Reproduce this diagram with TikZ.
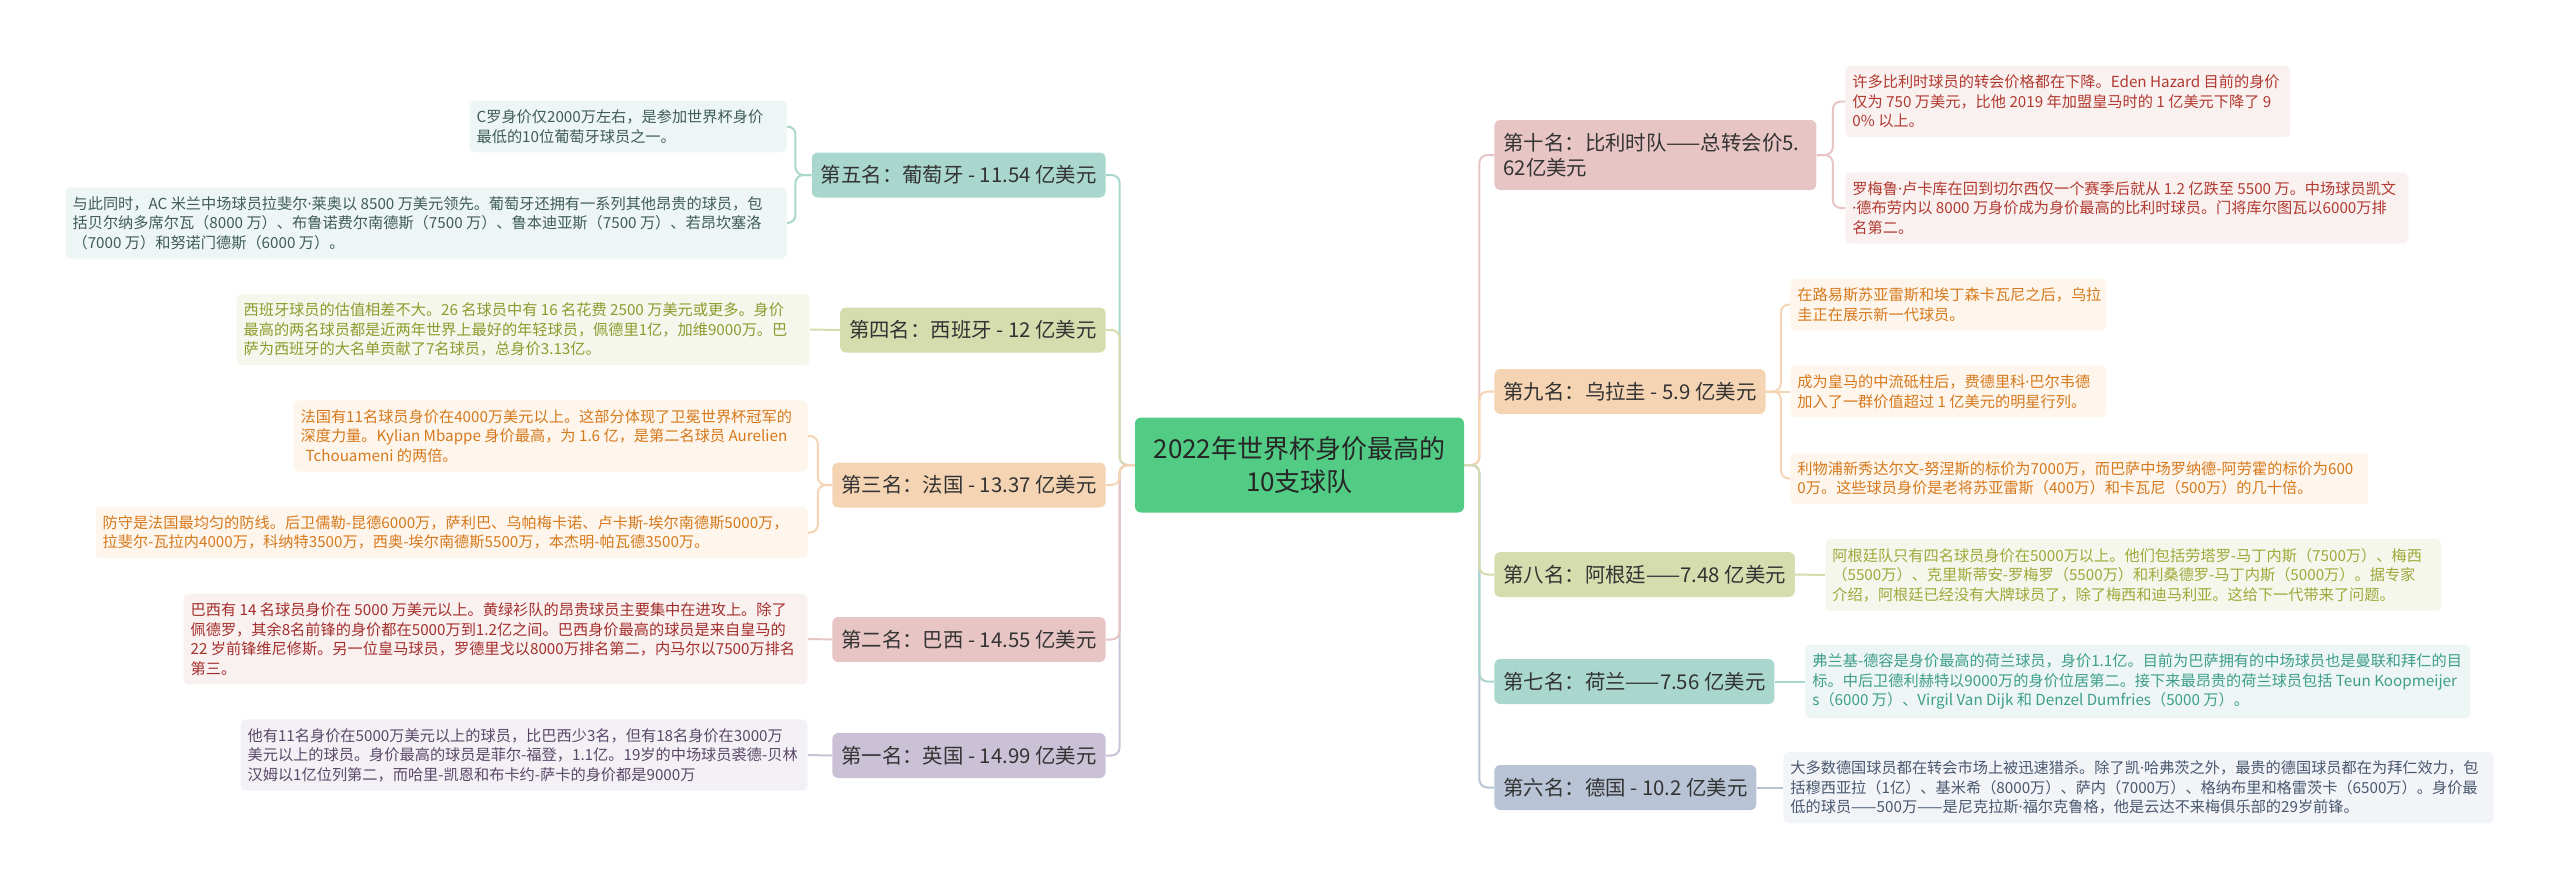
\documentclass[tikz,border=0pt]{standalone}
\usepackage{fontspec}
\setmainfont{Noto Sans CJK SC}
\newfontfamily\dotfont{Noto Sans}
\newcommand\md{{\dotfont ·}}
\newcommand\firstline[2]{\makebox[#1][l]{#2}}

\definecolor{rootgreen}{HTML}{52CC85}
\definecolor{tealbox}{HTML}{A9D7CE}
\definecolor{tealnote}{HTML}{EDF6F4}
\definecolor{olivebox}{HTML}{D5DCAE}
\definecolor{olivenote}{HTML}{F5F7EC}
\definecolor{peachbox}{HTML}{F5D4B3}
\definecolor{peachnote}{HTML}{FEF6ED}
\definecolor{pinkbox}{HTML}{E8C5C5}
\definecolor{pinknote}{HTML}{F9F0F0}
\definecolor{lilacbox}{HTML}{CBC1D6}
\definecolor{lilacnote}{HTML}{F3F1F5}
\definecolor{slatebox}{HTML}{B8C4D6}
\definecolor{slatenote}{HTML}{F2F4F7}
\definecolor{portext}{HTML}{3F5C58}
\definecolor{esptext}{HTML}{8E9B2F}
\definecolor{fratext}{HTML}{D6791C}
\definecolor{bratext}{HTML}{A52F2C}
\definecolor{engtext}{HTML}{5A4868}
\definecolor{beltext}{HTML}{B23A30}
\definecolor{argtext}{HTML}{9EA93A}
\definecolor{nedtext}{HTML}{3E9E8B}
\definecolor{gertext}{HTML}{4A5870}

\begin{document}
\begin{tikzpicture}[x=0.5pt,y=-0.5pt,
    rank/.style={rounded corners=3pt, inner xsep=4.5pt, inner ysep=0pt, minimum height=22.5pt,
      font=\fontsize{10.2}{12.2}\selectfont, text=black!80},
    note/.style={rounded corners=2.5pt, inner xsep=3.5pt, inner ysep=4.5pt, align=left,
      font=\fontsize{7.6}{9.75}\selectfont},
    link/.style={line width=1pt, rounded corners=4pt}]
  \useasboundingbox (0,0) rectangle (2560,890);

  % root
  \node[fill=rootgreen, rounded corners=3pt, minimum width=164.5pt, minimum height=47.5pt,
    align=center, font=\fontsize{13}{16.5}\selectfont, text=black!85] (root) at (1299.5,465)
    {2022年世界杯身价最高的\\10支球队};

  % left side
  \node[rank, fill=tealbox, anchor=east] (r5) at (1106,175) {第五名：葡萄牙 - 11.54 亿美元};
  \node[rank, fill=olivebox, anchor=east] (r4) at (1106,330) {第四名：西班牙 - 12 亿美元};
  \node[rank, fill=peachbox, anchor=east] (r3) at (1106,485) {第三名：法国 - 13.37 亿美元};
  \node[rank, fill=pinkbox, anchor=east] (r2) at (1106,639.5) {第二名：巴西 - 14.55 亿美元};
  \node[rank, fill=lilacbox, anchor=east] (r1) at (1106,755.5) {第一名：英国 - 14.99 亿美元};

  \node[note, fill=tealnote, text=portext, anchor=east] (r5a) at (787,126.5)
    {\firstline{151.5pt}{C罗身价仅2000万左右，是参加世界杯身价}\\最低的10位葡萄牙球员之一。};
  \node[note, fill=tealnote, text=portext, anchor=east] (r5b) at (787,223)
    {\firstline{353.5pt}{与此同时，AC 米兰中场球员拉斐尔\md 莱奥以 8500 万美元领先。葡萄牙还拥有一系列其他昂贵的球员，包}\\括贝尔纳多席尔瓦（8000 万）、布鲁诺费尔南德斯（7500 万）、鲁本迪亚斯（7500 万）、若昂坎塞洛\\（7000 万）和努诺门德斯（6000 万）。};
  \node[note, fill=olivenote, text=esptext, anchor=east] (r4a) at (810,329.5)
    {\firstline{279.5pt}{西班牙球员的估值相差不大。26 名球员中有 16 名花费 2500 万美元或更多。身价}\\最高的两名球员都是近两年世界上最好的年轻球员，佩德里1亿，加维9000万。巴\\萨为西班牙的大名单贡献了7名球员，总身价3.13亿。};
  \node[note, fill=peachnote, text=fratext, anchor=east] (r3a) at (808,436)
    {\firstline{250pt}{法国有11名球员身价在4000万美元以上。这部分体现了卫冕世界杯冠军的}\\深度力量。Kylian Mbappe 身价最高，为 1.6 亿，是第二名球员 Aurelien\\\hspace*{2.5pt}Tchouameni 的两倍。};
  \node[note, fill=peachnote, text=fratext, anchor=east] (r3b) at (808,532.5)
    {\firstline{349pt}{防守是法国最均匀的防线。后卫儒勒-昆德6000万，萨利巴、乌帕梅卡诺、卢卡斯-埃尔南德斯5000万，}\\拉斐尔-瓦拉内4000万，科纳特3500万，西奥-埃尔南德斯5500万，本杰明-帕瓦德3500万。};
  \node[note, fill=pinknote, text=bratext, anchor=east] (r2a) at (808,639)
    {\firstline{305pt}{巴西有 14 名球员身价在 5000 万美元以上。黄绿衫队的昂贵球员主要集中在进攻上。除了}\\佩德罗，其余8名前锋的身价都在5000万到1.2亿之间。巴西身价最高的球员是来自皇马的\\22 岁前锋维尼修斯。另一位皇马球员，罗德里戈以8000万排名第二，内马尔以7500万排名\\第三。};
  \node[note, fill=lilacnote, text=engtext, anchor=east] (r1a) at (808,755)
    {\firstline{276.5pt}{他有11名身价在5000万美元以上的球员，比巴西少3名，但有18名身价在3000万}\\美元以上的球员。身价最高的球员是菲尔-福登，1.1亿。19岁的中场球员裘德-贝林\\汉姆以1亿位列第二，而哈里-凯恩和布卡约-萨卡的身价都是9000万};

  % right side
  \node[rank, fill=pinkbox, anchor=west, align=left, minimum height=35pt]
    (r10) at (1494,155) {\firstline{152pt}{第十名：比利时队——总转会价5.}\\62亿美元};
  \node[rank, fill=peachbox, anchor=west] (r9) at (1494,391.5) {第九名：乌拉圭 - 5.9 亿美元};
  \node[rank, fill=olivebox, anchor=west] (r8) at (1494,574.5) {第八名：阿根廷——7.48 亿美元};
  \node[rank, fill=tealbox, anchor=west] (r7) at (1494,681.5) {第七名：荷兰——7.56 亿美元};
  \node[rank, fill=slatebox, anchor=west] (r6) at (1494,787.5) {第六名：德国 - 10.2 亿美元};

  \node[note, fill=pinknote, text=beltext, anchor=west] (r10a) at (1845,101.5)
    {\firstline{215.5pt}{许多比利时球员的转会价格都在下降。Eden Hazard 目前的身价}\\仅为 750 万美元，比他 2019 年加盟皇马时的 1 亿美元下降了 9\\0\% 以上。};
  \node[note, fill=pinknote, text=beltext, anchor=west] (r10b) at (1845,208)
    {\firstline{274.5pt}{罗梅鲁\md 卢卡库在回到切尔西仅一个赛季后就从 1.2 亿跌至 5500 万。中场球员凯文}\\\md 德布劳内以 8000 万身价成为身价最高的比利时球员。门将库尔图瓦以6000万排\\名第二。};
  \node[note, fill=peachnote, text=fratext, anchor=west] (r9a) at (1790,304.5)
    {\firstline{151pt}{在路易斯苏亚雷斯和埃丁森卡瓦尼之后，乌拉}\\圭正在展示新一代球员。};
  \node[note, fill=peachnote, text=fratext, anchor=west] (r9b) at (1790,391.5)
    {\firstline{151pt}{成为皇马的中流砥柱后，费德里科\md 巴尔韦德}\\加入了一群价值超过 1 亿美元的明星行列。};
  \node[note, fill=peachnote, text=fratext, anchor=west] (r9c) at (1790,478.5)
    {\firstline{282pt}{利物浦新秀达尔文-努涅斯的标价为7000万，而巴萨中场罗纳德-阿劳霍的标价为600}\\0万。这些球员身价是老将苏亚雷斯（400万）和卡瓦尼（500万）的几十倍。};
  \node[note, fill=olivenote, text=argtext, anchor=west] (r8a) at (1825,575)
    {\firstline{301pt}{阿根廷队只有四名球员身价在5000万以上。他们包括劳塔罗-马丁内斯（7500万）、梅西}\\（5500万）、克里斯蒂安-罗梅罗（5500万）和利桑德罗-马丁内斯（5000万）。据专家\\介绍，阿根廷已经没有大牌球员了，除了梅西和迪马利亚。这给下一代带来了问题。};
  \node[note, fill=tealnote, text=nedtext, anchor=west] (r7a) at (1805,681.5)
    {\firstline{325.5pt}{弗兰基-德容是身价最高的荷兰球员，身价1.1亿。目前为巴萨拥有的中场球员也是曼联和拜仁的目}\\标。中后卫德利赫特以9000万的身价位居第二。接下来最昂贵的荷兰球员包括 Teun Koopmeijer\\s（6000 万）、Virgil Van Dijk 和 Denzel Dumfries（5000 万）。};
  \node[note, fill=slatenote, text=gertext, anchor=west] (r6a) at (1783,787.5)
    {\firstline{348pt}{大多数德国球员都在转会市场上被迅速猎杀。除了凯\md 哈弗茨之外，最贵的德国球员都在为拜仁效力，包}\\括穆西亚拉（1亿）、基米希（8000万）、萨内（7000万）、格纳布里和格雷茨卡（6500万）。身价最\\低的球员——500万——是尼克拉斯\md 福尔克鲁格，他是云达不来梅俱乐部的29岁前锋。};

  % root to ranks
  \foreach \r/\c in {r5/tealbox, r4/olivebox, r1/lilacbox, r2/pinkbox, r3/peachbox}
    \draw[link, \c] (root.west) -- ++(-15,0) |- (\r.east);
  \foreach \r/\c in {r10/pinkbox, r9/peachbox, r6/slatebox, r7/tealbox, r8/olivebox}
    \draw[link, \c] (root.east) -- ++(15,0) |- (\r.west);

  % ranks to notes
  \draw[link, tealbox] (r5.west) -- ++(-16,0) |- (r5a.east);
  \draw[link, tealbox] (r5.west) -- ++(-16,0) |- (r5b.east);
  \draw[link, olivebox] (r4.west) -- (r4a.east);
  \draw[link, peachbox] (r3.west) -- ++(-14,0) |- (r3a.east);
  \draw[link, peachbox] (r3.west) -- ++(-14,0) |- (r3b.east);
  \draw[link, pinkbox] (r2.west) -- (r2a.east);
  \draw[link, lilacbox] (r1.west) -- (r1a.east);
  \draw[link, pinkbox] (r10.east) -- ++(16,0) |- (r10a.west);
  \draw[link, pinkbox] (r10.east) -- ++(16,0) |- (r10b.west);
  \draw[link, peachbox] (r9.east) -- ++(15,0) |- (r9a.west);
  \draw[link, peachbox] (r9.east) -- (r9b.west);
  \draw[link, peachbox] (r9.east) -- ++(15,0) |- (r9c.west);
  \draw[link, olivebox] (r8.east) -- (r8a.west);
  \draw[link, tealbox] (r7.east) -- (r7a.west);
  \draw[link, slatebox] (r6.east) -- (r6a.west);
\end{tikzpicture}
\end{document}
